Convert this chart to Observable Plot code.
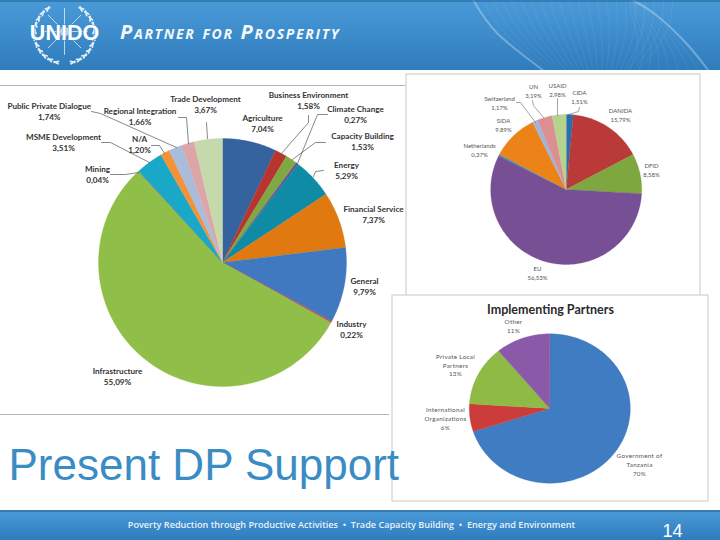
<!DOCTYPE html>
<html><head><meta charset="utf-8">
<script src="https://cdn.jsdelivr.net/npm/d3@7"></script>
<script src="https://cdn.jsdelivr.net/npm/@observablehq/plot@0.6"></script>
<style>html,body{margin:0;padding:0;background:#fff}svg{display:block;background:#fff}.hdr text{letter-spacing:1.7px}.ptn text{letter-spacing:.3px}</style>
</head><body><div id="chart"></div>
<script>
// ---- data ----
const sectorNames = ["Agriculture","Business Environment","Capacity Building","Climate Change","Energy","Financial Service","General","Industry","Infrastructure","Mining","MSME Development","N/A","Public Private Dialogue","Regional Integration","Trade Development"];
const sectorValues = [7.04,1.58,1.53,0.27,5.29,7.37,9.79,0.22,55.09,0.04,3.51,1.20,1.74,1.66,3.67];
const sectorColors = ["#34639f","#b8352f","#7fa743","#6a4c93","#0f8ba6","#e07a10","#4079bf","#c0504d","#8fbf48","#6f5a96","#1aa8c8","#f39237","#a9bcdc","#dca6a8","#c6d9ac"];
const donorNames = ["CIDA","DANIDA","DFID","EU","Netherlands","SIDA","Switzerland","UN","USAID"];
const donorValues = [1.51,15.79,8.58,56.53,0.37,9.89,1.17,3.19,2.98];
const donorColors = ["#2a6db0","#b93a38","#7ea83f","#774f95","#3f8ea8","#ec8318","#9fb4d8","#dc8f90","#b5d38e"];
const partnerNames = ["Government of Tanzania","International Organizations","Private Local Partners","Other"];
const partnerValues = [70,6,13,11];
const partnerColors = ["#3f7cc2","#cc3c3a","#8fba45","#8a5aa8"];
const fmt = v => v.toFixed(2).replace(".", ",") + "%";

// ---- layout ----
const pieA = {cx:222, cy:262, rx:124, ry:124};
const pieB = {cx:565.7, cy:189, rx:75.5, ry:75};
const pieC = {cx:549.3, cy:408, rx:80.5, ry:74.7};

function slices(names, values, colors, g, key){
  const total = d3.sum(values), out = [];
  let a = 0;
  names.forEach((n,i)=>{
    const a1 = a + values[i]/total*2*Math.PI;
    const id = key+i;
    out.push({id,c:colors[i],x:g.cx,y:g.cy});
    const steps = Math.max(2, Math.ceil((a1-a)/0.02));
    for(let k=0;k<=steps;k++){
      const t = a+(a1-a)*k/steps;
      out.push({id,c:colors[i],x:g.cx+g.rx*Math.sin(t),y:g.cy-g.ry*Math.cos(t)});
    }
    out.push({id,c:colors[i],x:g.cx,y:g.cy});
    a = a1;
  });
  return out;
}
const pieMark = s => Plot.line(s,{x:"x",y:"y",z:"id",fill:"c",stroke:"c",strokeWidth:0.3,curve:"linear"});

const mainLabels = [
 ["Trade Development",205,99],["Business Environment",308,95],["Climate Change",355,109],["Agriculture",262,118],
 ["Regional Integration",139.5,111],["Public Private Dialogue",48.7,106],["Capacity Building",362,136],
 ["MSME Development",63,137],["N/A",139,139],["Energy",346,165],["Mining",97,169],["Financial Service",373,209],
 ["General",364,281],["Industry",351,324],["Infrastructure",117,371]
].flatMap(([n,x,y])=>{const v=sectorValues[sectorNames.indexOf(n)];return [{t:n,x,y},{t:fmt(v),x,y:y+11.4}]});

const donorLabels = [
 ["UN",533,87],["USAID",557,86],["CIDA",579,93],["Switzerland",499,99],["DANIDA",620,111],["SIDA",503,121],
 ["Netherlands",479,146],["DFID",651,166],["EU",537,269]
].flatMap(([n,x,y])=>{const v=donorValues[donorNames.indexOf(n)];return [{t:n,x,y},{t:fmt(v),x,y:y+8.6}]});

const partnerLabels = [
 {t:"Other",x:513,y:321},{t:"11%",x:513,y:330},
 {t:"Private Local",x:455,y:356},{t:"Partners",x:455,y:365},{t:"13%",x:455,y:373.5},
 {t:"International",x:445,y:409},{t:"Organizations",x:445,y:418},{t:"6%",x:445,y:427},
 {t:"Government of",x:639,y:455},{t:"Tanzania",x:639,y:464},{t:"70%",x:639,y:473}
];

const leader = (id,pts)=>pts.map(([x,y])=>({id,x,y}));
const mainLeaders = [
 ...leader("be",[[308,115],[308,122],[281,153]]),
 ...leader("cc",[[327,114],[317,114],[297,163]]),
 ...leader("cb",[[325,142],[315,142],[292,159]]),
 ...leader("en",[[323,170],[315,171],[313,176]]),
 ...leader("td",[[206,122],[207,138]]),
 ...leader("ri",[[178,117],[186,117],[188,143]]),
 ...leader("pp",[[91,111],[100,113],[176,147]]),
 ...leader("na",[[151,145],[159,145],[164,153]]),
 ...leader("ms",[[101,142],[110,142],[149,162]]),
 ...leader("mi",[[110,174],[125,174],[138,172]])
];
const donorLeaders = [
 ...leader("sw",[[516,102],[520,102],[535,122]]),
 ...leader("un",[[532,100],[533,105],[543,117]]),
 ...leader("us",[[557,98],[557,115]]),
 ...leader("ci",[[579,107],[578,111],[568,114]])
];

// ---- logo and banner decoration ----
const logo = {cx:64, cy:31, r:23};
const logoLines = [];
for(let i=0;i<8;i++){const t=i*Math.PI/4;logoLines.push({id:"m"+i,x:logo.cx,y:logo.cy},{id:"m"+i,x:logo.cx+logo.r*Math.cos(t),y:logo.cy+logo.r*Math.sin(t)});}
const leaves=[];
[-1,1].forEach(s=>{
  for(let i=0;i<11;i++){
    const t=(-52+i*13)*Math.PI/180;
    [[28.5,0.45],[31,-0.35]].forEach(([R,tilt],j)=>{
      const x=logo.cx+s*R*Math.cos(t),y=logo.cy+2+R*Math.sin(t);
      const a=t-Math.PI/2+tilt;
      leaves.push({id:`l${s}${i}${j}`,x,y},{id:`l${s}${i}${j}`,x:x+s*4.5*Math.cos(a),y:y+4.5*Math.sin(a)});
    });
  }
});
const waves=[];
for(let k=0;k<22;k++){
  waves.push({id:"a"+k,o:k,x:473+k*9.5,y:0},{id:"a"+k,o:k,x:497+k*8,y:33},{id:"a"+k,o:k,x:543+k*4.5,y:70});
}
for(let k=0;k<9;k++){
  waves.push({id:"b"+k,o:k,x:633-k*0.5,y:0},{id:"b"+k,o:k,x:655-k*3,y:14},{id:"b"+k,o:k,x:685-k*6,y:42},{id:"b"+k,o:k,x:708-k*10,y:70});
}

const defs = () => {
  const d = d3.create("svg:defs");
  const v = d.append("linearGradient").attr("id","band").attr("x1",0).attr("x2",0).attr("y1",0).attr("y2",1);
  v.append("stop").attr("offset",0).attr("stop-color","#4a9ad8");
  v.append("stop").attr("offset",1).attr("stop-color","#2f7cbd");
  return d.node();
};

const labelFont = {fontFamily:"Lato",textAnchor:"middle",lineAnchor:"middle"};

const chart = Plot.plot({
  width:720,height:540,margin:0,
  x:{domain:[0,720],range:[0,720],axis:null},
  y:{domain:[0,540],range:[0,540],axis:null},
  style:{background:"#fff",overflow:"hidden"},
  marks:[
    defs,
    // bands
    Plot.rect([0],{x1:0,x2:720,y1:0,y2:70,fill:"url(#band)"}),
    Plot.line(waves,{x:"x",y:"y",z:"id",stroke:"#fff",strokeOpacity:d=>d.o===0?0.3:0.1,strokeWidth:d=>d.o===0?2:0.7,curve:"natural"}),
    Plot.rect([0],{x1:0,x2:720,y1:510,y2:540,fill:"url(#band)"}),
    Plot.ruleY([0.5,510.5],{stroke:"#1f5f94",strokeWidth:1}),
    // logo
    Plot.dot([23,15,7],{x:()=>logo.cx,y:()=>logo.cy,r:d=>d,stroke:"#dfeefa",strokeWidth:1,fill:"none"}),
    Plot.line(logoLines,{x:"x",y:"y",z:"id",stroke:"#dfeefa",strokeWidth:0.8}),
    Plot.line(leaves,{x:"x",y:"y",z:"id",stroke:"#dfeefa",strokeWidth:1.8,strokeLinecap:"round"}),
    Plot.text(["UNIDO"],{x:()=>64,y:()=>33,text:d=>d,fill:"#fff",fontFamily:"Liberation Sans",fontWeight:"bold",fontSize:21.5,lineAnchor:"middle",stroke:"#3b8ccb",strokeWidth:1,paintOrder:"stroke"}),
    Plot.text(["Partner for Prosperity"],{x:()=>119.5,y:()=>32,text:d=>d,className:"hdr",fill:"#f2f7fb",fontFamily:"Open Sans",fontWeight:"bold",fontStyle:"italic",fontVariant:"small-caps",fontSize:20,textAnchor:"start",lineAnchor:"middle"}),
    // frames
    Plot.ruleY([85],{x1:0,x2:405,stroke:"#b5b5b5",strokeWidth:1}),
    Plot.ruleY([414],{x1:0,x2:389,stroke:"#b5b5b5",strokeWidth:1}),
    Plot.rect([0],{x1:406,x2:700,y1:74,y2:296,fill:"#fff",stroke:"#c8c8c8",strokeWidth:1}),
    Plot.rect([0],{x1:392,x2:708,y1:295,y2:501,fill:"#fff",stroke:"#c8c8c8",strokeWidth:1}),
    // pies
    pieMark(slices(sectorNames,sectorValues,sectorColors,pieA,"a")),
    pieMark(slices(donorNames,donorValues,donorColors,pieB,"b")),
    pieMark(slices(partnerNames,partnerValues,partnerColors,pieC,"c")),
    // leaders
    Plot.line(mainLeaders,{x:"x",y:"y",z:"id",stroke:"#555",strokeWidth:0.7}),
    Plot.line(donorLeaders,{x:"x",y:"y",z:"id",stroke:"#666",strokeWidth:0.6}),
    // labels
    Plot.text(mainLabels,{x:"x",y:"y",text:"t",...labelFont,fontWeight:"bold",fontSize:8.1,fill:"#333"}),
    Plot.text(donorLabels,{x:"x",y:"y",text:"t",...labelFont,fontSize:6,fill:"#555"}),
    Plot.text(partnerLabels,{x:"x",y:"y",text:"t",className:"ptn",...labelFont,fontSize:6.3,fill:"#555"}),
    Plot.text(["Implementing Partners"],{x:()=>550,y:()=>309,text:d=>d,...labelFont,fontWeight:"bold",fontSize:12.5,fill:"#2b2b2b"}),
    // slide title and footer
    Plot.text(["Present DP Support"],{x:()=>8,y:()=>465,text:d=>d,fontFamily:"Liberation Sans",fontSize:44,fill:"#3a8cc4",textAnchor:"start",lineAnchor:"middle"}),
    Plot.text(["Poverty Reduction through Productive Activities  \u2022  Trade Capacity Building  \u2022  Energy and Environment"],{x:()=>351,y:()=>525,text:d=>d,fontFamily:"Open Sans",fontWeight:600,fontSize:9.1,fill:"#e8f2fa",lineAnchor:"middle"}),
    Plot.text(["14"],{x:()=>672,y:()=>531,text:d=>d,fontFamily:"Liberation Sans",fontSize:18,fill:"#fff",lineAnchor:"middle"})
  ]
});
document.getElementById("chart").append(chart);
</script></body></html>
